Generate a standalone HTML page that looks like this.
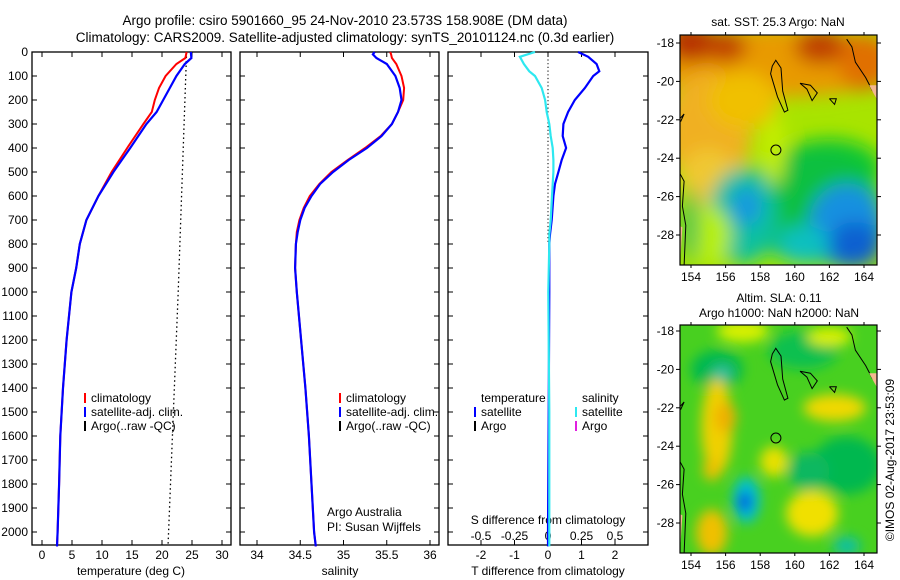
<!DOCTYPE html>
<html><head><meta charset="utf-8">
<style>
html,body{margin:0;padding:0;background:#fff;}
svg{display:block;font-family:"Liberation Sans",sans-serif;}
</style></head>
<body>
<svg id="fig" width="900" height="580" viewBox="0 0 900 580" xmlns="http://www.w3.org/2000/svg">
<defs>
<filter id="blur1" x="-50%" y="-50%" width="200%" height="200%"><feGaussianBlur stdDeviation="9"/></filter>
<filter id="blur2" x="-50%" y="-50%" width="200%" height="200%"><feGaussianBlur stdDeviation="6"/></filter>
<clipPath id="clipM1"><rect x="680" y="35" width="197" height="230"/></clipPath>
<clipPath id="clipM2"><rect x="680" y="325" width="197" height="228"/></clipPath>
</defs>
<text x="345" y="25" font-size="13.5" text-anchor="middle">Argo profile: csiro 5901660_95 24-Nov-2010 23.573S 158.908E (DM data)</text>
<text x="345" y="42" font-size="13.5" text-anchor="middle">Climatology: CARS2009. Satellite-adjusted climatology: synTS_20101124.nc (0.3d earlier)</text>
<g id="g"></g>
</svg>
<script>
// ---- data ----
const depthT = [0,25,50,100,150,200,250,300,400,500,600,700,800,900,1000,1200,1400,1600,1800,2000,2060];
const tempClim = [24.1,23.9,22.4,20.6,19.5,18.8,18.3,16.9,14.2,11.6,9.4,7.4,6.3,5.7,4.9,4.1,3.5,3.05,2.85,2.6,2.5];
const tempSat  = [24.8,24.9,23.8,22.4,21.3,20.2,19.1,17.4,14.7,11.9,9.4,7.4,6.3,5.7,4.9,4.1,3.5,3.05,2.85,2.6,2.5];
const argoDepth = [0,1000,2060];
const argoTemp = [24.1,22.7,21.0];
const depthS = [0,10,25,50,100,150,200,250,300,350,400,450,500,550,600,650,700,750,800,900,1000,1200,1400,1600,1800,2000,2060];
const salClim = [35.54,35.55,35.56,35.61,35.67,35.70,35.69,35.63,35.56,35.43,35.25,35.05,34.86,34.72,34.61,34.54,34.49,34.46,34.45,34.44,34.46,34.51,34.56,34.60,34.63,34.66,34.68];
const salSat  = [35.36,35.34,35.38,35.50,35.60,35.65,35.67,35.63,35.56,35.44,35.27,35.06,34.88,34.73,34.63,34.55,34.50,34.47,34.45,34.44,34.46,34.51,34.56,34.60,34.63,34.66,34.68];
const depthD = [0,20,50,80,100,150,200,250,300,350,400,450,500,550,600,700,760,800,1000,1500,2000,2060];
const tDiff = [0.9,1.2,1.45,1.53,1.35,1.1,0.8,0.6,0.46,0.44,0.54,0.41,0.31,0.21,0.16,0.11,0.06,0.04,0.04,0.02,0.0,0.0];
const sDiff = [-0.097,-0.21,-0.18,-0.14,-0.097,-0.047,-0.022,-0.01,0.01,0.02,0.035,0.04,0.04,0.035,0.03,0.02,0.01,0.01,0.002,0.01,0.01,0.01];
const depthTicks = [0,100,200,300,400,500,600,700,800,900,1000,1100,1200,1300,1400,1500,1600,1700,1800,1900,2000];
const tempTicks = [0,5,10,15,20,25,30];
const salTicks = [34,34.5,35,35.5,36];
const salTickLabels = ["34","34.5","35","35.5","36"];
const tdTicks = [-2,-1,0,1,2];
const sdTicks = [-0.5,-0.25,0,0.25,0.5];
const sdTickLabels = ["-0.5","-0.25","0","0.25","0.5"];
const lonTicks = [154,156,158,160,162,164];
const latTicks = [-18,-20,-22,-24,-26,-28];

const NS="http://www.w3.org/2000/svg";
const G=document.getElementById('g');
function el(tag,attrs,parent){const e=document.createElementNS(NS,tag);for(const k in attrs)e.setAttribute(k,attrs[k]);(parent||G).appendChild(e);return e;}
function txt(s,x,y,attrs,name){const t=el('text',Object.assign({x:x,y:y,'font-size':12},attrs||{}));t.textContent=s;


return t;}

const TOP=52,BOT=545;
const yD=d=>TOP+d*0.24;
const panels=[
 {x0:32,x1:231,f:v=>42+v*6,name:'temperature-panel'},
 {x0:240,x1:439,f:v=>257+(v-34)*86.5,name:'salinity-panel'},
 {x0:448,x1:648,f:v=>548+v*33.5,name:'difference-panel'}
];
const sdX=v=>548+v*134;

function path(xs,ys,fx,color,w,name,dash){
 let d='';
 for(let i=0;i<xs.length;i++){const X=fx(xs[i]),Y=yD(ys[i]);d+=(i?'L':'M')+X.toFixed(1)+' '+Y.toFixed(1);}
 const p=el('path',{d:d,fill:'none',stroke:color,'stroke-width':w});
 if(dash)p.setAttribute('stroke-dasharray',dash);
 
 
 return p;
}

panels.forEach((P,pi)=>{
 const r=el('rect',{x:P.x0,y:TOP,width:P.x1-P.x0,height:BOT-TOP,fill:'none',stroke:'#000','stroke-width':1.3});
 
 
 depthTicks.forEach(d=>{
  el('line',{x1:P.x0,x2:P.x0+5,y1:yD(d),y2:yD(d),stroke:'#000'});
  el('line',{x1:P.x1,x2:P.x1-5,y1:yD(d),y2:yD(d),stroke:'#000'});
 });
});
depthTicks.forEach(d=>txt(String(d),28,yD(d)+4,{'text-anchor':'end'},'depth-tick-label'));

// x ticks
function xticks(P,ticks,labels,f,ly){
 ticks.forEach((v,i)=>{const X=f(v);
  el('line',{x1:X,x2:X,y1:TOP,y2:TOP+5,stroke:'#000'});
  el('line',{x1:X,x2:X,y1:BOT,y2:BOT-5,stroke:'#000'});
  txt(labels[i],X,ly,{'text-anchor':'middle'},'x-tick-label');
 });
}
xticks(panels[0],tempTicks,tempTicks.map(String),panels[0].f,559);
xticks(panels[1],salTicks,salTickLabels,panels[1].f,559);
xticks(panels[2],tdTicks,tdTicks.map(String),panels[2].f,559);
sdTicks.forEach((v,i)=>txt(sdTickLabels[i],sdX(v),540,{'text-anchor':'middle'},'s-diff-tick-label'));
txt('temperature (deg C)',131,575,{'text-anchor':'middle'},'x-axis-title-temperature');
txt('salinity',340,575,{'text-anchor':'middle'},'x-axis-title-salinity');
txt('T difference from climatology',548,575,{'text-anchor':'middle'},'x-axis-title-t-difference');
txt('S difference from climatology',548,524,{'text-anchor':'middle'},'axis-title-s-difference');

// series
path(argoTemp,argoDepth,panels[0].f,'#000',1.3,'argo-temperature-line','1.5 3');
path(tempClim,depthT,panels[0].f,'#f00',2,'climatology-temperature-line');
path(tempSat,depthT,panels[0].f,'#00f',2.2,'satellite-temperature-line');
path(salClim,depthS,panels[1].f,'#f00',2,'climatology-salinity-line');
path(salSat,depthS,panels[1].f,'#00f',2.2,'satellite-salinity-line');
const zl=el('line',{x1:548,x2:548,y1:TOP,y2:yD(800),stroke:'#000','stroke-dasharray':'1.2 2.5'});


path(tDiff,depthD,panels[2].f,'#00f',2.2,'satellite-t-difference-line');
path(sDiff,depthD,sdX,'#2ee8f0',2.2,'satellite-s-difference-line');

// legends
function legItem(x,y,color,label,name){
 const l=el('line',{x1:x,x2:x,y1:y-9,y2:y+1,stroke:color,'stroke-width':2});
 
 
 txt(label,x+6,y,{},name);
}
[[85,'temp'],[340,'sal']].forEach(([x,n])=>{
 legItem(x,402,'#f00','climatology','legend-climatology-'+n);
 legItem(x,416,'#00f','satellite-adj. clim.','legend-satellite-'+n);
 legItem(x,430,'#000','Argo(..raw -QC)','legend-argo-'+n);
});
txt('temperature',481,402,{},'legend-temperature-heading');
txt('salinity',582,402,{},'legend-salinity-heading');
legItem(475,416,'#00f','satellite','legend-t-satellite');
legItem(475,430,'#000','Argo','legend-t-argo');
legItem(576,416,'#2ee8f0','satellite','legend-s-satellite');
legItem(576,430,'#e020e0','Argo','legend-s-argo');
txt('Argo Australia',327,516,{},'credit-argo-australia');
txt('PI: Susan Wijffels',327,531,{},'credit-pi');

// ---- maps ----
const lonX=lon=>691+(lon-154)*17.3;
const latY1=lat=>43+(-18-lat)*19.2;
const latY2=lat=>331+(-18-lat)*19.2;
// blobs: [lon,lat,rlon,rlat,color]
const sstBlobs=[
 [159,-19,8,1.8,'#e89a00'],[154,-18,1.5,1,'#b83000'],[156,-18.2,1.2,0.8,'#c04000'],[161.5,-18.2,1.5,0.9,'#c04000'],[164,-19,1.5,1.5,'#e07000'],
 [155,-22.5,2.5,3,'#f0b020'],[157,-21,2,1.5,'#f0c000'],[155,-25,1.6,1.5,'#f0c830'],
 [162,-24.5,3,1.5,'#10c830'],[161,-26.5,4,3,'#10c040'],[157,-27,2,2.5,'#10c0a0'],[157.2,-26.5,0.9,1,'#1898e0'],
 [163,-27.5,2.2,2.2,'#1890e0'],[163.5,-28.5,1.5,1.2,'#1060d0'],[160.5,-28.5,1.5,1,'#10c0c0'],
 [158.8,-23.6,0.6,1.8,'#c8f000'],[155,-28,1.3,1.5,'#b8f000'],[154,-27.5,0.4,2,'#10b860']
];
const slaBlobs=[
 [155.5,-20,1.5,1,'#00b850'],[155.8,-20.2,0.6,0.4,'#30c0a0'],[160.5,-19,2,1,'#10c050'],[163,-25,2,1.5,'#00b850'],[160.8,-25.3,1.2,1,'#10b860'],
 [155.5,-23,0.9,2.5,'#f0d000'],[156,-22.5,0.6,0.8,'#f0b000'],[155.2,-25.2,0.5,0.6,'#f0c000'],[155.2,-28.5,0.9,1.2,'#f0c000'],
 [158.8,-24.8,0.8,0.8,'#e8e000'],[161,-27.5,1.5,1.2,'#f0e000'],[162.3,-22,1.8,0.7,'#f0d800'],[157,-18,1.5,0.6,'#d8f000'],[162,-18.3,1.3,0.5,'#d8f000'],
 [157.2,-26.8,0.8,1.2,'#00c0d0'],[157.1,-26.9,0.4,0.5,'#0050e0'],[163,-29.2,0.8,0.5,'#10c0a0']
];
function drawMap(yf,top,bot,blobs,base,clip,name,blurId){
 const g=el('g',{'clip-path':'url(#'+clip+')'});
 
 
 el('rect',{x:680,y:top,width:197,height:bot-top,fill:base},g);
 const bg=el('g',{filter:'url(#'+blurId+')'},g);
 blobs.forEach(b=>el('ellipse',{cx:lonX(b[0]),cy:yf(b[1]),rx:b[2]*17.3,ry:b[3]*19.2,fill:b[4]},bg));
 // coastlines / contours
 const cont=[
  [[158.7,-19.2],[158.9,-18.9],[159.2,-19.3],[159.3,-20.5],[159.6,-21.5],[159.4,-21.6],[159.0,-20.8],[158.6,-19.6],[158.7,-19.2]],
  [[160.3,-20.1],[160.9,-20.2],[161.3,-20.6],[161.0,-21.0],[160.7,-20.4],[160.3,-20.1]],
  [[163.0,-17.8],[163.3,-18.2],[163.5,-19.0],[164.1,-19.8],[164.5,-20.5]],
  [[153.3,-24.7],[153.6,-25.2],[153.5,-26.5],[153.7,-27.5],[153.6,-29.6]],
  [[153.4,-21.9],[153.6,-21.7],[153.4,-22.1]],
  [[162.0,-20.9],[162.4,-20.9],[162.3,-21.2],[162.0,-20.9]]
 ];
 cont.forEach(c=>{let d='';c.forEach((p,i)=>d+=(i?'L':'M')+lonX(p[0]).toFixed(1)+' '+yf(p[1]).toFixed(1));
  el('path',{d:d,fill:'none',stroke:'#000','stroke-width':1},g);});
 el('polygon',{points:[[164.3,-20.2],[164.8,-20.2],[164.8,-21],[164.6,-20.7]].map(p=>lonX(p[0])+','+yf(p[1])).join(' '),fill:'#f4b890'},g);
 el('polygon',{points:[[153.3,-27.5],[153.5,-27.6],[153.4,-29],[153.3,-29]].map(p=>lonX(p[0])+','+yf(p[1])).join(' '),fill:'#f4b890'},g);
 const c=el('circle',{cx:lonX(158.908),cy:yf(-23.573),r:5,fill:'none',stroke:'#000','stroke-width':1},g);
 
 
 el('rect',{x:680,y:top,width:197,height:bot-top,fill:'none',stroke:'#000','stroke-width':1.2});
 lonTicks.forEach(l=>{const X=lonX(l);el('line',{x1:X,x2:X,y1:top-3,y2:top,stroke:'#000'});el('line',{x1:X,x2:X,y1:bot,y2:bot+3,stroke:'#000'});
  txt(String(l),X,bot+16,{'text-anchor':'middle'},'longitude-tick-label');});
 latTicks.forEach(l=>{const Y=yf(l);el('line',{x1:676,x2:680,y1:Y,y2:Y,stroke:'#000'});el('line',{x1:877,x2:881,y1:Y,y2:Y,stroke:'#000'});
  txt(String(l),674,Y+4,{'text-anchor':'end'},'latitude-tick-label');});
}
drawMap(latY1,35,265,sstBlobs,'#a8e400','clipM1','sst-map','blur1');
drawMap(latY2,325,553,slaBlobs,'#48d020','clipM2','sla-map','blur2');
txt('sat. SST: 25.3 Argo: NaN',778,26,{'text-anchor':'middle'},'sst-map-title');
txt('Altim. SLA: 0.11',779,302,{'text-anchor':'middle'},'sla-map-title');
txt('Argo h1000: NaN h2000: NaN',779,317,{'text-anchor':'middle'},'sla-map-subtitle');
txt('©IMOS 02-Aug-2017 23:53:09',894,460,{'text-anchor':'middle',transform:'rotate(-90 894 460)'},'timestamp');
</script>
</body></html>
